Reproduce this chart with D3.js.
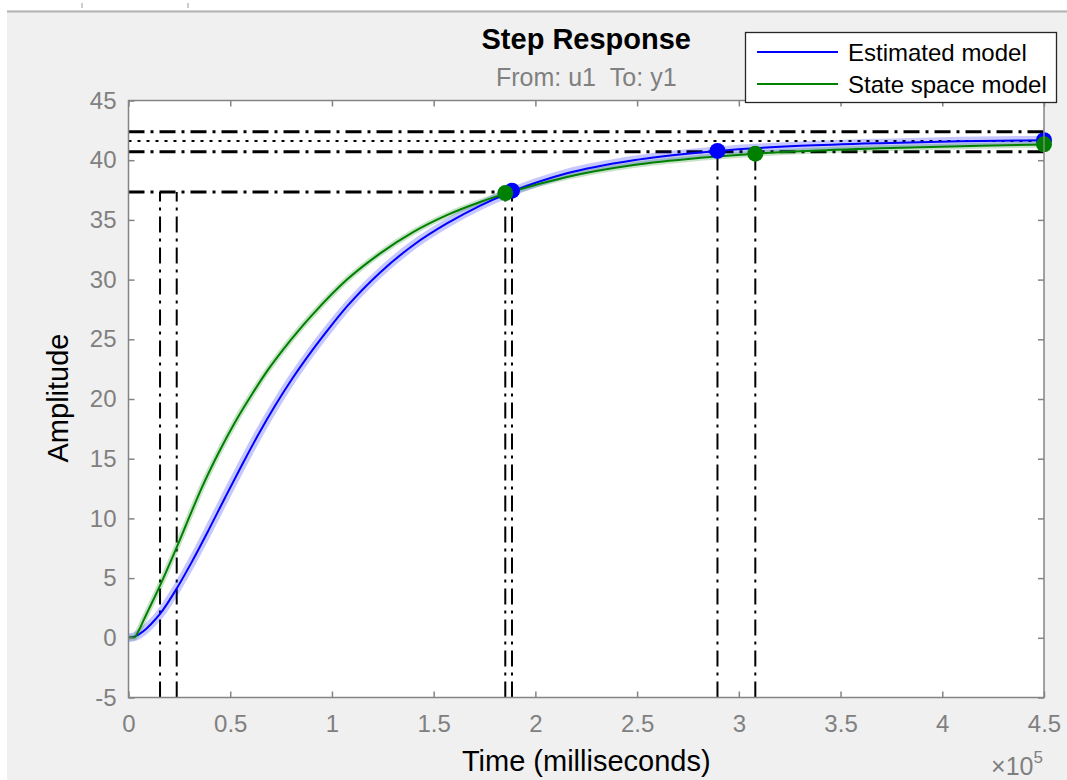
<!DOCTYPE html>
<html><head><meta charset="utf-8">
<script src="https://cdn.jsdelivr.net/npm/d3@7"></script>
<style>
html,body{margin:0;padding:0;background:#f0f0f0;}
svg{display:block;font-family:"Liberation Sans", Arial, Helvetica, sans-serif;}
</style></head><body>
<svg id="chart" width="1067" height="780"></svg>
<script>
// ---------- data ----------
const seriesNames = ["Estimated model", "State space model"];

// time in units of 1e5 ms
const estTime = [0, 0.03, 0.073, 0.11, 0.155, 0.237, 0.312, 0.393, 0.475, 0.557, 0.639, 0.721, 0.803, 0.885, 0.983, 1.074, 1.237, 1.401, 1.565, 1.729, 1.885, 2.155, 2.483, 2.811, 2.895, 3.302, 3.695, 4.088, 4.5];
const estAmp  = [0, 0.1, 0.55, 1.14, 2.0, 4.13, 6.38, 9.0, 11.75, 14.45, 17.05, 19.45, 21.65, 23.65, 25.85, 27.75, 30.6, 32.9, 34.7, 36.2, 37.37, 38.9, 40.0, 40.65, 40.78, 41.2, 41.43, 41.58, 41.68];

const ssTime = [0, 0.03, 0.05, 0.075, 0.1, 0.1475, 0.23, 0.279, 0.361, 0.443, 0.525, 0.607, 0.688, 0.758, 0.844, 0.909, 1.074, 1.237, 1.401, 1.565, 1.729, 1.852, 2.155, 2.483, 2.811, 3.081, 3.302, 3.695, 4.187, 4.5];
const ssAmp  = [0, 0.05, 0.6, 1.5, 2.4, 4.1, 7.3, 9.3, 12.6, 15.5, 18.1, 20.4, 22.5, 24.1, 25.9, 27.15, 30.0, 32.2, 34.0, 35.4, 36.5, 37.2, 38.6, 39.6, 40.2, 40.55, 40.75, 41.0, 41.2, 41.32];

const xTickValues = [0, 0.5, 1, 1.5, 2, 2.5, 3, 3.5, 4, 4.5];
const xTickLabels = ["0", "0.5", "1", "1.5", "2", "2.5", "3", "3.5", "4", "4.5"];
const yTickValues = [-5, 0, 5, 10, 15, 20, 25, 30, 35, 40, 45];
const yTickLabels = ["-5", "0", "5", "10", "15", "20", "25", "30", "35", "40", "45"];

// response characteristics (Estimated, State space)
const riseStartTimes = [0.237, 0.155];
const riseEndTimes   = [1.885, 1.852];
const riseValues     = [37.45, 37.25];
const riseLevel      = 37.34;
const settleTimes    = [2.895, 3.081];
const settleValues   = [40.78, 40.55];
const settleBounds   = [42.39, 40.71];
const steadyState    = 41.61;
const finalTime      = 4.5;
const finalValues    = [41.68, 41.33];

// ---------- drawing ----------
const svg = d3.select("#chart");
const W = 1067, H = 780;
const FONT = '"Liberation Sans", Arial, Helvetica, sans-serif';
const lineColors = ["#0000ff", "#008000"];
const bandColors = ["rgba(0,0,255,0.22)", "rgba(0,128,0,0.22)"];
const bandWidths = [9, 6];

const x = d3.scaleLinear().domain([0, 4.5]).range([128.5, 1044]);
const y = d3.scaleLinear().domain([-5, 45]).range([697.5, 100.5]);

// figure background
svg.append("rect").attr("width", W).attr("height", H).attr("fill", "#f0f0f0");
svg.append("rect").attr("x", 0).attr("y", 0).attr("width", W).attr("height", 10).attr("fill", "#ffffff");
svg.append("rect").attr("x", 0).attr("y", 0).attr("width", 7).attr("height", H).attr("fill", "#ffffff");
svg.append("line").attr("x1", 7).attr("x2", W).attr("y1", 11.5).attr("y2", 11.5)
  .attr("stroke", "#b4b4b4").attr("stroke-width", 2);
[82, 188].forEach(px => svg.append("line").attr("x1", px).attr("x2", px).attr("y1", 3).attr("y2", 8)
  .attr("stroke", "#9a9a9a").attr("stroke-width", 1));

// plot area
svg.append("rect").attr("x", x(0)).attr("y", y(45))
  .attr("width", x(4.5) - x(0)).attr("height", y(-5) - y(45)).attr("fill", "#ffffff");

const plot = svg.append("g");

// reference lines
const DASHDOT = "16,6,3,6";
function hline(v, x0, x1, dash, w) {
  plot.append("line").attr("x1", x(x0)).attr("x2", x(x1)).attr("y1", y(v)).attr("y2", y(v))
    .attr("stroke", "#000").attr("stroke-width", w).attr("stroke-dasharray", dash);
}
function vline(t, v0, v1, dash, w) {
  plot.append("line").attr("x1", x(t)).attr("x2", x(t)).attr("y1", y(v0)).attr("y2", y(v1))
    .attr("stroke", "#000").attr("stroke-width", w).attr("stroke-dasharray", dash);
}
settleBounds.forEach(v => hline(v, 0, 4.5, DASHDOT, 3));
hline(steadyState, 0, 4.5, "3,6", 2.2);
hline(riseLevel, 0, d3.max(riseEndTimes), DASHDOT, 3);
riseStartTimes.forEach(t => vline(t, -5, riseLevel, DASHDOT, 2));
riseEndTimes.forEach((t, i) => vline(t, -5, riseValues[i], DASHDOT, 2));
settleTimes.forEach((t, i) => vline(t, -5, settleValues[i], DASHDOT, 2));

// curves
const series = [
  estTime.map((t, i) => [t, estAmp[i]]),
  ssTime.map((t, i) => [t, ssAmp[i]])
];
const line = d3.line().x(d => x(d[0])).y(d => y(d[1])).curve(d3.curveMonotoneX);
series.forEach((s, i) => {
  plot.append("path").attr("d", line(s)).attr("fill", "none")
    .attr("stroke", bandColors[i]).attr("stroke-width", bandWidths[i]).attr("stroke-linejoin", "round");
});
series.forEach((s, i) => {
  plot.append("path").attr("d", line(s)).attr("fill", "none")
    .attr("stroke", lineColors[i]).attr("stroke-width", 2).attr("stroke-linejoin", "round");
});

// markers
[0, 1].forEach(i => {
  const pts = [[riseEndTimes[i], riseValues[i]], [settleTimes[i], settleValues[i]], [finalTime, finalValues[i]]];
  pts.forEach(p => plot.append("circle").attr("cx", x(p[0])).attr("cy", y(p[1])).attr("r", 8)
    .attr("fill", lineColors[i]));
});

// axes
const AX = "#848484";
function styleAxis(g, fs) {
  g.attr("font-family", FONT).attr("font-size", fs).attr("color", AX);
  g.select(".domain").remove();
  g.selectAll(".tick line").attr("stroke-width", 1.5);
  g.selectAll(".tick text").attr("fill", "#808080");
}
const gb = svg.append("g").attr("transform", `translate(0,${y(-5)})`)
  .call(d3.axisBottom(x).tickValues(xTickValues).tickFormat((d, i) => xTickLabels[i])
    .tickSizeInner(-6).tickSizeOuter(0).tickPadding(17));
styleAxis(gb, 24);
const gt = svg.append("g").attr("transform", `translate(0,${y(45)})`)
  .call(d3.axisTop(x).tickValues(xTickValues).tickFormat("").tickSizeInner(-6).tickSizeOuter(0));
styleAxis(gt, 24);
const gl = svg.append("g").attr("transform", `translate(${x(0)},0)`)
  .call(d3.axisLeft(y).tickValues(yTickValues).tickFormat((d, i) => yTickLabels[i])
    .tickSizeInner(-6).tickSizeOuter(0).tickPadding(12));
styleAxis(gl, 24);
const gr = svg.append("g").attr("transform", `translate(${x(4.5)},0)`)
  .call(d3.axisRight(y).tickValues(yTickValues).tickFormat("").tickSizeInner(-6).tickSizeOuter(0));
styleAxis(gr, 24);

svg.append("rect").attr("x", x(0)).attr("y", y(45))
  .attr("width", x(4.5) - x(0)).attr("height", y(-5) - y(45))
  .attr("fill", "none").attr("stroke", AX).attr("stroke-width", 1.5);

// titles & labels
const cx = (x(0) + x(4.5)) / 2;
svg.append("text").attr("x", cx).attr("y", 49).attr("text-anchor", "middle")
  .attr("font-family", FONT).attr("font-size", 29).attr("font-weight", "bold").attr("fill", "#000")
  .text("Step Response");
svg.append("text").attr("x", cx).attr("y", 86).attr("text-anchor", "middle")
  .attr("font-family", FONT).attr("font-size", 25).attr("fill", "#808080")
  .text("From: u1\u00a0\u00a0To: y1");
svg.append("text").attr("transform", "translate(67.5,398) rotate(-90)").attr("text-anchor", "middle")
  .attr("font-family", FONT).attr("font-size", 29).attr("fill", "#000")
  .text("Amplitude");
svg.append("text").attr("x", cx).attr("y", 771).attr("text-anchor", "middle")
  .attr("font-family", FONT).attr("font-size", 29).attr("fill", "#000")
  .text("Time (milliseconds)");
const ex = svg.append("text").attr("x", 1043).attr("y", 775).attr("text-anchor", "end")
  .attr("font-family", FONT).attr("font-size", 25).attr("fill", "#808080");
ex.append("tspan").text("\u00d710");
ex.append("tspan").attr("font-size", 17).attr("dy", -12).text("5");

// legend
const lg = svg.append("g");
lg.append("rect").attr("x", 745.5).attr("y", 32.5).attr("width", 311).attr("height", 70)
  .attr("fill", "#ffffff").attr("stroke", "#262626").attr("stroke-width", 1.3);
seriesNames.forEach((name, i) => {
  const ly = 52 + i * 32;
  lg.append("line").attr("x1", 757).attr("x2", 838).attr("y1", ly).attr("y2", ly)
    .attr("stroke", lineColors[i]).attr("stroke-width", 2);
  lg.append("text").attr("x", 848).attr("y", ly + 8.5)
    .attr("font-family", FONT).attr("font-size", 24).attr("fill", "#000").text(name);
});
</script>
</body></html>
